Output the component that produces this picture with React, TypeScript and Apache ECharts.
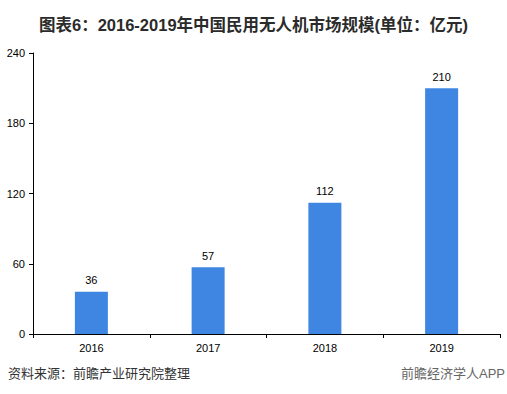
import React, { useEffect, useRef } from "react";
import * as echarts from "echarts";

const categories = ["2016", "2017", "2018", "2019"];
const values = [36, 57, 112, 210];
const yTicks = [0, 60, 120, 180, 240];

export default function App() {
  const ref = useRef<HTMLDivElement>(null);
  useEffect(() => {
    if (!ref.current) return;
    const chart = echarts.init(ref.current, null, { renderer: "svg" });
    const font = "Arial, 'Liberation Sans', 'Noto Sans CJK SC', sans-serif";
    chart.setOption({
      animation: false,
      backgroundColor: "#ffffff",
      title: {
        text: "图表6：2016-2019年中国民用无人机市场规模(单位：亿元)",
        left: "center",
        top: 12,
        textStyle: { fontSize: 16.5, fontWeight: "bold", color: "#2b2b2b", fontFamily: font },
      },
      grid: { left: 33, right: 7, top: 53, bottom: 60, containLabel: false },
      xAxis: {
        type: "category",
        data: categories,
        axisLine: { lineStyle: { color: "#000000", width: 1 } },
        axisTick: { show: true, length: 4, lineStyle: { color: "#000000" } },
        axisLabel: { color: "#000000", fontSize: 11, margin: 8, fontFamily: font },
      },
      yAxis: {
        type: "value",
        min: yTicks[0],
        max: yTicks[yTicks.length - 1],
        interval: 60,
        splitLine: { show: false },
        axisLine: { show: true, lineStyle: { color: "#000000", width: 1 } },
        axisTick: { show: true, length: 4, lineStyle: { color: "#000000" } },
        axisLabel: { color: "#000000", fontSize: 11, margin: 8, fontFamily: font },
      },
      series: [
        {
          type: "bar",
          data: values,
          barWidth: 33,
          itemStyle: { color: "#3E86E1" },
          label: {
            show: true,
            position: "top",
            distance: 6,
            color: "#000000",
            fontSize: 11,
            fontFamily: font,
          },
        },
      ],
      graphic: [
        {
          type: "text",
          x: 8,
          y: 373,
          style: {
            text: "资料来源：前瞻产业研究院整理",
            fontSize: 13,
            fill: "#333333",
            fontFamily: font,
            verticalAlign: "middle",
          },
        },
        {
          type: "text",
          x: 505,
          y: 373,
          style: {
            text: "前瞻经济学人APP",
            fontSize: 13,
            fill: "#666666",
            fontFamily: font,
            align: "right",
            verticalAlign: "middle",
          },
        },
        {
          type: "text",
          x: 150,
          y: 95,
          rotation: 0.35,
          style: { text: "前瞻产业研究院", fontSize: 26, fontWeight: "bold", fill: "rgba(0,0,0,0.025)", fontFamily: font },
        },
        {
          type: "text",
          x: 200,
          y: 295,
          rotation: 0.35,
          style: { text: "前瞻产业研究院", fontSize: 26, fontWeight: "bold", fill: "rgba(0,0,0,0.025)", fontFamily: font },
        },
      ],
    });
    return () => chart.dispose();
  }, []);
  return <div ref={ref} style={{ width: 507, height: 394, position: "absolute", left: 0, top: 0 }} />;
}
